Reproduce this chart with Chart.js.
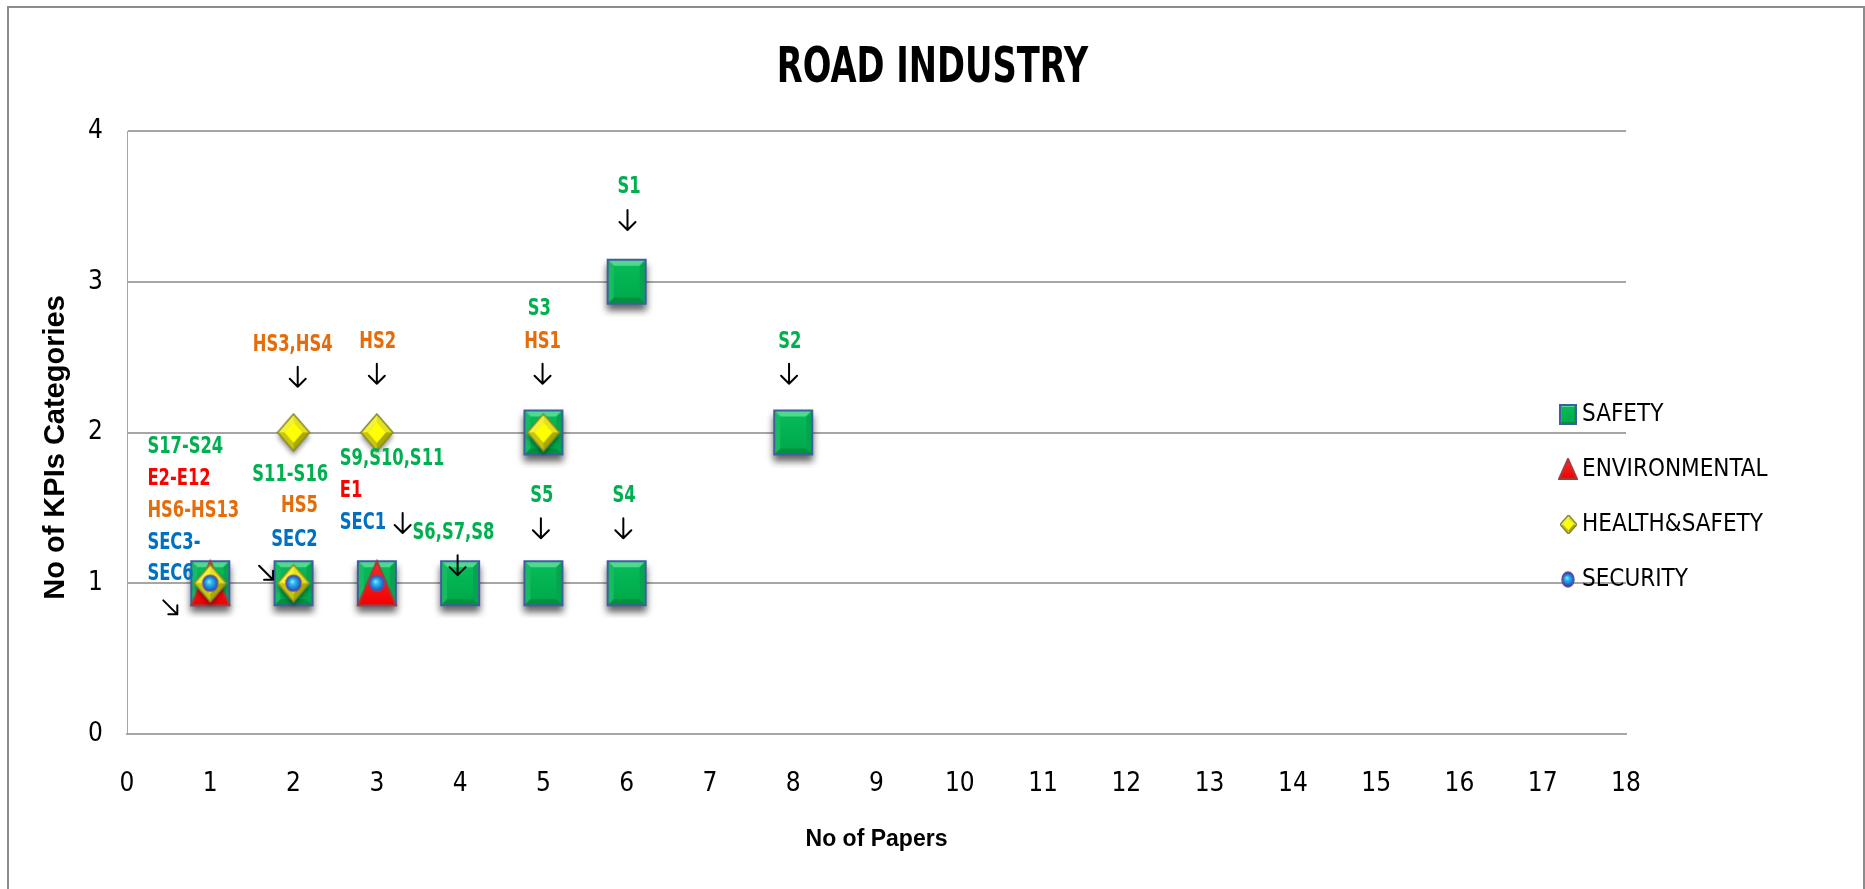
<!DOCTYPE html>
<html>
<head>
<meta charset="utf-8">
<title>Road Industry KPIs</title>
<script src="https://cdn.jsdelivr.net/npm/chart.js@4.4.1/dist/chart.umd.min.js"></script>
<style>
  html, body { margin: 0; padding: 0; background: #ffffff; overflow: hidden; }
  canvas { display: block; }
</style>
</head>
<body>
<canvas id="roadChart" width="1865" height="889"></canvas>
<script>
// ---------- data ----------
const chartTitle = 'ROAD INDUSTRY';
const yAxisTitle = 'No of KPIs Categories';
const xAxisTitle = 'No of Papers';
const seriesNames = ['SAFETY', 'ENVIRONMENTAL', 'HEALTH&SAFETY', 'SECURITY'];

const safetyPapers = [1, 2, 3, 4, 5, 6, 5, 8, 6];
const safetyKpis   = [1, 1, 1, 1, 1, 1, 2, 2, 3];

const envPapers = [1, 3];
const envKpis   = [1, 1];

const hsPapers = [1, 2, 2, 3, 5];
const hsKpis   = [1, 1, 2, 2, 2];

const secPapers = [1, 2, 3];
const secKpis   = [1, 1, 1];

const xTickValues = [0, 1, 2, 3, 4, 5, 6, 7, 8, 9, 10, 11, 12, 13, 14, 15, 16, 17, 18];
const yTickValues = [0, 1, 2, 3, 4];

// KPI code labels, placed in axis units (papers, categories)
const codeText  = ['S1', 'S2', 'S3', 'HS1', 'HS3,HS4', 'HS2',
                   'S17-S24', 'E2-E12', 'HS6-HS13', 'SEC3-', 'SEC6',
                   'S11-S16', 'HS5', 'SEC2',
                   'S9,S10,S11', 'E1', 'SEC1',
                   'S6,S7,S8', 'S5', 'S4'];
const codeGroup = ['S', 'S', 'S', 'HS', 'HS', 'HS',
                   'S', 'E', 'HS', 'SEC', 'SEC',
                   'S', 'HS', 'SEC',
                   'S', 'E', 'SEC',
                   'S', 'S', 'S'];
const codeX     = [6.03, 7.96, 4.95, 4.99, 1.99, 3.01,
                   0.245, 0.245, 0.245, 0.245, 0.245,
                   1.96, 2.07, 2.01,
                   2.555, 2.555, 2.555,
                   3.92, 4.98, 5.97];
const codeY     = [3.63, 2.60, 2.82, 2.60, 2.58, 2.60,
                   1.906, 1.69, 1.48, 1.265, 1.06,
                   1.72, 1.51, 1.29,
                   1.824, 1.61, 1.40,
                   1.33, 1.58, 1.58];
const codeAlign = ['center', 'center', 'center', 'center', 'center', 'center',
                   'left', 'left', 'left', 'left', 'left',
                   'center', 'center', 'center',
                   'left', 'left', 'left',
                   'center', 'center', 'center'];

// pointer arrows, in axis units
const arrowX   = [6.01, 7.95, 4.99, 2.05, 3.00, 0.52, 1.67, 3.31, 3.97, 4.97, 5.96];
const arrowY   = [3.41, 2.39, 2.39, 2.37, 2.39, 0.84, 1.07, 1.40, 1.12, 1.365, 1.365];
const arrowDir = ['down', 'down', 'down', 'down', 'down', 'diag', 'diag', 'down', 'down', 'down', 'down'];

// ---------- styling ----------
const NARROW = '"Liberation Sans Narrow", "DejaVu Sans Condensed", "Arial Narrow", sans-serif';
const SANS = '"Liberation Sans", Arial, sans-serif';
const groupColor = { S: '#00B050', E: '#FF0000', HS: '#E46C0A', SEC: '#0070C0' };
const GRID = '#A6A6A6';

function makeCanvas(w, h) {
  const c = document.createElement('canvas');
  c.width = w; c.height = h;
  return c;
}
function poly(g, pts, fill) {
  g.beginPath();
  g.moveTo(pts[0][0], pts[0][1]);
  for (let i = 1; i < pts.length; i++) g.lineTo(pts[i][0], pts[i][1]);
  g.closePath();
  g.fillStyle = fill;
  g.fill();
}
// text squeezed horizontally around its anchor
function squeezedText(ctx, text, x, y, sx) {
  ctx.save();
  ctx.translate(x, y);
  ctx.scale(sx, 1);
  ctx.fillText(text, 0, 0);
  ctx.restore();
}

// bevelled green square
function squareIcon(w, h, pad, shadow) {
  const c = makeCanvas(w + 2 * pad, h + 2 * pad);
  const g = c.getContext('2d');
  const x0 = pad, y0 = pad;
  if (shadow) {
    g.save();
    g.shadowColor = 'rgba(0,0,0,0.6)';
    g.shadowBlur = 7;
    g.shadowOffsetY = 6;
    g.fillStyle = '#00B050';
    g.fillRect(x0, y0, w, h);
    g.restore();
  }
  const b = Math.max(3, Math.round(w * 0.17));
  g.fillStyle = '#00B050';
  g.fillRect(x0, y0, w, h);
  poly(g, [[x0, y0], [x0 + w, y0], [x0 + w - b, y0 + b], [x0 + b, y0 + b]], '#4ED98E');
  poly(g, [[x0, y0], [x0 + b, y0 + b], [x0 + b, y0 + h - b], [x0, y0 + h]], '#17BC60');
  poly(g, [[x0 + w, y0], [x0 + w, y0 + h], [x0 + w - b, y0 + h - b], [x0 + w - b, y0 + b]], '#05A550');
  poly(g, [[x0, y0 + h], [x0 + b, y0 + h - b], [x0 + w - b, y0 + h - b], [x0 + w, y0 + h]], '#00913F');
  const gr = g.createLinearGradient(0, y0 + b, 0, y0 + h - b);
  gr.addColorStop(0, '#06BA58');
  gr.addColorStop(1, '#00AB4C');
  g.fillStyle = gr;
  g.fillRect(x0 + b, y0 + b, w - 2 * b, h - 2 * b);
  g.strokeStyle = '#3F5E9E';
  g.lineWidth = 2;
  g.strokeRect(x0 + 1, y0 + 1, w - 2, h - 2);
  return c;
}

// red triangle
function triangleIcon(w, h, pad) {
  const c = makeCanvas(w + 2 * pad, h + 2 * pad);
  const g = c.getContext('2d');
  const x0 = pad, y0 = pad;
  const pts = [[x0 + w / 2, y0 + 1], [x0 + w - 1, y0 + h - 1], [x0 + 1, y0 + h - 1]];
  const gr = g.createLinearGradient(0, y0, 0, y0 + h);
  gr.addColorStop(0, '#FF2A2A');
  gr.addColorStop(1, '#F00000');
  poly(g, pts, gr);
  g.beginPath();
  g.moveTo(pts[0][0], pts[0][1]);
  g.lineTo(pts[1][0], pts[1][1]);
  g.lineTo(pts[2][0], pts[2][1]);
  g.closePath();
  g.strokeStyle = '#A83A3A';
  g.lineWidth = 2;
  g.stroke();
  return c;
}

// bevelled yellow diamond
function diamondIcon(w, h, pad, shadow) {
  const c = makeCanvas(w + 2 * pad, h + 2 * pad);
  const g = c.getContext('2d');
  const x0 = pad, y0 = pad, cx = x0 + w / 2, cy = y0 + h / 2;
  const T = [cx, y0], R = [x0 + w, cy], B = [cx, y0 + h], L = [x0, cy];
  const k = 0.22;
  const t = [cx, y0 + h * k], r = [x0 + w * (1 - k), cy], bb = [cx, y0 + h * (1 - k)], l = [x0 + w * k, cy];
  if (shadow) {
    g.save();
    g.shadowColor = 'rgba(0,0,0,0.45)';
    g.shadowBlur = 5;
    g.shadowOffsetY = 4;
    poly(g, [T, R, B, L], '#D4D400');
    g.restore();
  }
  poly(g, [L, T, t, l], '#F2F23C');
  poly(g, [T, R, r, t], '#E2E21E');
  poly(g, [R, B, bb, r], '#A9A900');
  poly(g, [B, L, l, bb], '#C6C610');
  poly(g, [t, r, bb, l], '#FFFF00');
  g.beginPath();
  g.moveTo(T[0], T[1]); g.lineTo(R[0], R[1]); g.lineTo(B[0], B[1]); g.lineTo(L[0], L[1]);
  g.closePath();
  g.strokeStyle = '#8A8A2A';
  g.lineWidth = 1.5;
  g.stroke();
  return c;
}

// blue sphere
function sphereIcon(w, h, pad) {
  const c = makeCanvas(w + 2 * pad, h + 2 * pad);
  const g = c.getContext('2d');
  const cx = pad + w / 2, cy = pad + h / 2;
  const gr = g.createRadialGradient(cx - w * 0.1, cy - h * 0.12, 0, cx, cy, w / 2);
  gr.addColorStop(0, '#9AF2FF');
  gr.addColorStop(0.35, '#2FB8F0');
  gr.addColorStop(0.8, '#1B76D0');
  gr.addColorStop(1, '#2B4C9E');
  g.beginPath();
  g.ellipse(cx, cy, w / 2, h / 2, 0, 0, Math.PI * 2);
  g.fillStyle = gr;
  g.fill();
  g.strokeStyle = '#6A4C9C';
  g.lineWidth = 1.5;
  g.stroke();
  return c;
}

const markerStyles = [
  squareIcon(40, 46, 12, true),
  triangleIcon(40, 46, 12),
  diamondIcon(32, 37, 10, true),
  sphereIcon(15, 16, 2)
];
const legendStyles = [
  squareIcon(18, 21, 0, false),
  triangleIcon(20, 22, 0),
  diamondIcon(17, 19, 0, false),
  sphereIcon(12, 15, 1)
];

// ---------- plugins ----------
const framePlugin = {
  id: 'frame',
  beforeDraw(chart) {
    const ctx = chart.ctx;
    ctx.save();
    ctx.strokeStyle = '#8C8C8C';
    ctx.lineWidth = 2;
    ctx.strokeRect(8, 7, chart.width - 9, chart.height + 20);
    // heading, centred on the whole canvas
    ctx.fillStyle = '#000000';
    ctx.font = 'bold 50px ' + NARROW;
    ctx.textAlign = 'center';
    ctx.textBaseline = 'alphabetic';
    squeezedText(ctx, chartTitle, chart.width / 2, 82, 0.75);
    // vertical axis title, sitting a little below the plot's mid-height
    const area = chart.chartArea;
    ctx.font = 'bold 29px ' + SANS;
    ctx.textBaseline = 'middle';
    ctx.translate(56, (area.top + area.bottom) / 2 + 15);
    ctx.rotate(-Math.PI / 2);
    ctx.fillText(yAxisTitle, 0, 0);
    ctx.restore();
  }
};

const codeLabelPlugin = {
  id: 'codeLabels',
  afterDatasetsDraw(chart) {
    const ctx = chart.ctx;
    const xs = chart.scales.x, ys = chart.scales.y;
    ctx.save();
    ctx.font = 'bold 23px ' + NARROW;
    ctx.textBaseline = 'middle';
    for (let i = 0; i < codeText.length; i++) {
      ctx.fillStyle = groupColor[codeGroup[i]];
      ctx.textAlign = codeAlign[i];
      squeezedText(ctx, codeText[i], xs.getPixelForValue(codeX[i]), ys.getPixelForValue(codeY[i]), 0.79);
    }
    ctx.strokeStyle = '#000000';
    ctx.lineWidth = 2;
    ctx.lineCap = 'round';
    ctx.lineJoin = 'round';
    for (let i = 0; i < arrowX.length; i++) {
      const px = xs.getPixelForValue(arrowX[i]);
      const py = ys.getPixelForValue(arrowY[i]);
      ctx.beginPath();
      if (arrowDir[i] === 'down') {
        ctx.moveTo(px, py - 10); ctx.lineTo(px, py + 10);
        ctx.moveTo(px - 8, py + 2); ctx.lineTo(px, py + 10); ctx.lineTo(px + 8, py + 2);
      } else {
        ctx.moveTo(px - 7, py - 7); ctx.lineTo(px + 7, py + 7);
        ctx.moveTo(px - 2, py + 7); ctx.lineTo(px + 7, py + 7); ctx.lineTo(px + 7, py - 2);
      }
      ctx.stroke();
    }
    ctx.restore();
  }
};

const sideLegendPlugin = {
  id: 'sideLegend',
  afterDraw(chart) {
    const ctx = chart.ctx;
    const area = chart.chartArea;
    const iconX = area.right - 58;
    const top = 414, step = 55;
    ctx.save();
    ctx.font = '24px ' + NARROW;
    ctx.fillStyle = '#000000';
    ctx.textAlign = 'left';
    ctx.textBaseline = 'middle';
    for (let i = 0; i < seriesNames.length; i++) {
      const y = top + i * step;
      const img = legendStyles[i];
      ctx.drawImage(img, Math.round(iconX - img.width / 2), Math.round(y - img.height / 2));
      ctx.fillText(seriesNames[i], iconX + 14, y + 1);
    }
    ctx.restore();
  }
};

// ---------- chart ----------
function points(xs, ys) {
  return xs.map((x, i) => ({ x: x, y: ys[i] }));
}

new Chart(document.getElementById('roadChart'), {
  type: 'scatter',
  data: {
    datasets: [
      { label: seriesNames[0], data: points(safetyPapers, safetyKpis), pointStyle: markerStyles[0], pointRadius: 20, order: 4 },
      { label: seriesNames[1], data: points(envPapers, envKpis),       pointStyle: markerStyles[1], pointRadius: 20, order: 3 },
      { label: seriesNames[2], data: points(hsPapers, hsKpis),         pointStyle: markerStyles[2], pointRadius: 16, order: 2 },
      { label: seriesNames[3], data: points(secPapers, secKpis),       pointStyle: markerStyles[3], pointRadius: 8,  order: 1 }
    ]
  },
  options: {
    responsive: false,
    animation: false,
    events: [],
    layout: { padding: { left: 0, right: 239, top: 131, bottom: 0 } },
    plugins: {
      legend: { display: false },
      tooltip: { enabled: false },
      title: { display: false }
    },
    scales: {
      x: {
        type: 'linear',
        min: 0,
        max: 18,
        afterBuildTicks(scale) { scale.ticks = xTickValues.map(v => ({ value: v })); },
        afterFit(scale) { scale.height = 155; },
        grid: { display: false, drawTicks: false },
        border: { display: true, color: GRID, width: 2 },
        ticks: { color: '#000000', padding: 35, font: { family: NARROW, size: 26 } },
        title: {
          display: true,
          text: xAxisTitle,
          color: '#000000',
          font: { family: SANS, size: 23, weight: 'bold' },
          padding: { top: 0, bottom: 36 }
        }
      },
      y: {
        type: 'linear',
        min: 0,
        max: 4,
        afterBuildTicks(scale) { scale.ticks = yTickValues.map(v => ({ value: v })); },
        afterFit(scale) { scale.width = 127; },
        grid: { color: GRID, lineWidth: 2, drawTicks: false },
        border: { display: true, color: GRID, width: 1 },
        ticks: { color: '#000000', padding: 24, font: { family: NARROW, size: 26 } },
        title: { display: false }
      }
    }
  },
  plugins: [framePlugin, codeLabelPlugin, sideLegendPlugin]
});
</script>
</body>
</html>
